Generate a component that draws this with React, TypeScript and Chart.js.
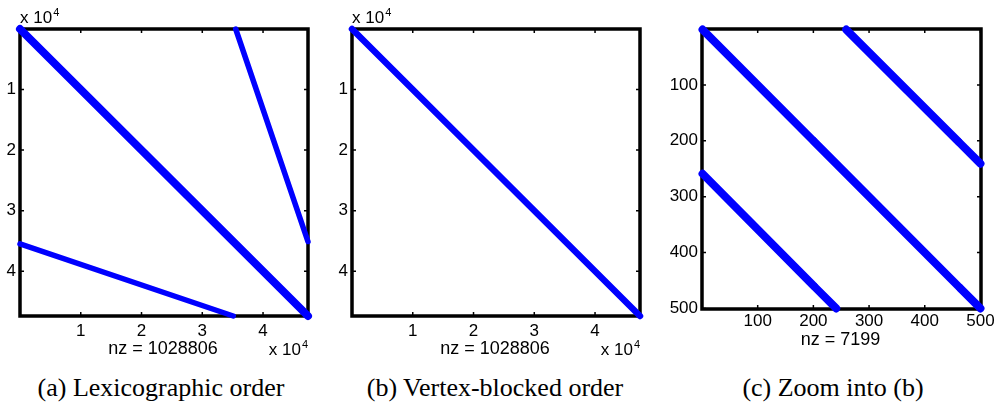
import React, { useEffect, useRef } from "react";
import { Chart, registerables } from "chart.js";

Chart.register(...registerables);

// ---------- data ----------
const lexExtent = 47400; // n + 1 for the full matrix
const zoomExtent = 501; // n + 1 for the 500x500 zoom
const lexTicks = [10000, 20000, 30000, 40000];
const zoomTicks = [100, 200, 300, 400, 500];

// (a) lexicographic order: segment endpoints (column, row) taken pairwise
const lexMainCols = [1, 47399];
const lexMainRows = [1, 47399];
const lexUpperCols = [35500, 47399];
const lexUpperRows = [1, 35100];
const lexLowerCols = [1, 35100];
const lexLowerRows = [35500, 47399];

// (b) vertex-blocked order
const vbMainCols = [1, 47399];
const vbMainRows = [1, 47399];

// (c) zoom into (b)
const zoomMainCols = [1, 199, 201, 462, 464, 500];
const zoomMainRows = [1, 199, 201, 462, 464, 500];
const zoomUpperCols = [259, 460, 462, 500];
const zoomUpperRows = [1, 201, 203, 241];
const zoomLowerCols = [1, 201, 203, 241];
const zoomLowerRows = [259, 460, 462, 500];

const nzLabels = ["nz = 1028806", "nz = 1028806", "nz = 7199"];
const captions = ["(a) Lexicographic order", "(b) Vertex-blocked order", "(c) Zoom into (b)"];

// ---------- layout ----------
const SANS = "'Liberation Sans', Arial, Helvetica, sans-serif";
const BLUE = "#0000ff";
const CANVAS_H = 370;

type Seg = { cols: number[]; rows: number[]; width: number };
type PanelCfg = {
  left: number;
  width: number;
  area: { left: number; right: number; top: number; bottom: number };
  extent: number;
  ticks: number[];
  tickDiv: number;
  exponent: boolean;
  nz: string;
  nzOffset: number;
  xPad: number;
  segs: Seg[];
};

const panels: PanelCfg[] = [
  {
    left: 0,
    width: 330,
    area: { left: 20, right: 308, top: 29, bottom: 316 },
    extent: lexExtent,
    ticks: lexTicks,
    tickDiv: 10000,
    exponent: true,
    nz: nzLabels[0],
    nzOffset: 38,
    xPad: 5,
    segs: [
      { cols: lexUpperCols, rows: lexUpperRows, width: 5.5 },
      { cols: lexLowerCols, rows: lexLowerRows, width: 5.5 },
      { cols: lexMainCols, rows: lexMainRows, width: 8 },
    ],
  },
  {
    left: 330,
    width: 330,
    area: { left: 22, right: 310, top: 29, bottom: 316 },
    extent: lexExtent,
    ticks: lexTicks,
    tickDiv: 10000,
    exponent: true,
    nz: nzLabels[1],
    nzOffset: 38,
    xPad: 5,
    segs: [{ cols: vbMainCols, rows: vbMainRows, width: 6.5 }],
  },
  {
    left: 660,
    width: 337,
    area: { left: 42, right: 321, top: 29, bottom: 309 },
    extent: zoomExtent,
    ticks: zoomTicks,
    tickDiv: 1,
    exponent: false,
    nz: nzLabels[2],
    nzOffset: 36,
    xPad: 2,
    segs: [
      { cols: zoomMainCols, rows: zoomMainRows, width: 8 },
      { cols: zoomUpperCols, rows: zoomUpperRows, width: 8 },
      { cols: zoomLowerCols, rows: zoomLowerRows, width: 8 },
    ],
  },
];

const captionCenters = [161, 495, 833];

function buildDatasets(segs: Seg[]) {
  const out: any[] = [];
  segs.forEach((s) => {
    for (let i = 0; i + 1 < s.cols.length; i += 2) {
      out.push({
        data: [
          { x: s.cols[i], y: s.rows[i] },
          { x: s.cols[i + 1], y: s.rows[i + 1] },
        ],
        showLine: true,
        borderColor: BLUE,
        backgroundColor: BLUE,
        borderWidth: s.width,
        borderCapStyle: "round",
        pointRadius: 0,
        pointHoverRadius: 0,
        clip: false,
      });
    }
  });
  return out;
}

function Panel({ cfg }: { cfg: PanelCfg }) {
  const ref = useRef<HTMLCanvasElement | null>(null);
  useEffect(() => {
    if (!ref.current) return;
    const a = cfg.area;
    const framePlugin = {
      id: "frame",
      beforeDatasetsDraw(chart: any) {
        const ctx = chart.ctx;
        const ca = chart.chartArea;
        const xs = chart.scales.x;
        const ys = chart.scales.y;
        ctx.save();
        ctx.strokeStyle = "#000";
        ctx.lineWidth = 1.5;
        const tl = 4;
        cfg.ticks.forEach((v) => {
          const px = xs.getPixelForValue(v);
          ctx.beginPath();
          ctx.moveTo(px, ca.top);
          ctx.lineTo(px, ca.top + tl);
          ctx.moveTo(px, ca.bottom);
          ctx.lineTo(px, ca.bottom - tl);
          ctx.stroke();
          const py = ys.getPixelForValue(v);
          ctx.beginPath();
          ctx.moveTo(ca.left, py);
          ctx.lineTo(ca.left + tl, py);
          ctx.moveTo(ca.right, py);
          ctx.lineTo(ca.right - tl, py);
          ctx.stroke();
        });
        ctx.lineWidth = 3.5;
        ctx.strokeRect(ca.left, ca.top, ca.right - ca.left, ca.bottom - ca.top);
        ctx.restore();
      },
      afterDraw(chart: any) {
        const ctx = chart.ctx;
        const ca = chart.chartArea;
        ctx.save();
        ctx.fillStyle = "#000";
        ctx.textBaseline = "alphabetic";
        // nz label
        ctx.font = `18px ${SANS}`;
        ctx.textAlign = "center";
        ctx.fillText(cfg.nz, (ca.left + ca.right) / 2 - 1, ca.bottom + cfg.nzOffset);
        if (cfg.exponent) {
          // top-left multiplier
          ctx.textAlign = "left";
          ctx.font = `17px ${SANS}`;
          const base = "x 10";
          ctx.fillText(base, ca.left, ca.top - 6);
          const w = ctx.measureText(base).width;
          ctx.font = `11px ${SANS}`;
          ctx.fillText("4", ca.left + w + 1, ca.top - 13);
          // bottom-right multiplier
          ctx.font = `11px ${SANS}`;
          const w4 = ctx.measureText("4").width;
          ctx.textAlign = "right";
          ctx.fillText("4", ca.right, ca.bottom + 32);
          ctx.font = `17px ${SANS}`;
          ctx.fillText(base, ca.right - w4 - 1, ca.bottom + 39);
        }
        ctx.restore();
      },
    };

    const tickFont = { family: SANS, size: 17 };
    const chart = new Chart(ref.current, {
      type: "scatter",
      data: { datasets: buildDatasets(cfg.segs) },
      options: {
        animation: false,
        responsive: false,
        devicePixelRatio: 1,
        events: [],
        layout: { padding: { left: 0, top: a.top, right: cfg.width - a.right, bottom: 0 } },
        plugins: { legend: { display: false }, tooltip: { enabled: false } },
        scales: {
          x: {
            type: "linear",
            position: "bottom",
            min: 0,
            max: cfg.extent,
            grid: { display: false, drawTicks: false },
            border: { display: false },
            ticks: {
              autoSkip: false,
              maxRotation: 0,
              padding: cfg.xPad,
              color: "#000",
              font: tickFont,
              callback: (v: any) => String(Number(v) / cfg.tickDiv),
            },
            afterBuildTicks: (s: any) => {
              s.ticks = cfg.ticks.map((v) => ({ value: v }));
            },
            afterFit: (s: any) => {
              s.height = CANVAS_H - a.bottom;
            },
          },
          y: {
            type: "linear",
            position: "left",
            reverse: true,
            min: 0,
            max: cfg.extent,
            grid: { display: false, drawTicks: false },
            border: { display: false },
            ticks: {
              autoSkip: false,
              padding: 4,
              color: "#000",
              font: tickFont,
              callback: (v: any) => String(Number(v) / cfg.tickDiv),
            },
            afterBuildTicks: (s: any) => {
              s.ticks = cfg.ticks.map((v) => ({ value: v }));
            },
            afterFit: (s: any) => {
              s.width = a.left;
            },
          },
        },
      } as any,
      plugins: [framePlugin],
    });
    return () => chart.destroy();
  }, [cfg]);

  return (
    <canvas
      ref={ref}
      width={cfg.width}
      height={CANVAS_H}
      style={{ position: "absolute", left: cfg.left, top: 0, width: cfg.width, height: CANVAS_H, display: "block" }}
    />
  );
}

export default function App() {
  return (
    <div style={{ position: "absolute", left: 0, top: 0, width: 997, height: 405, background: "#fff", overflow: "hidden" }}>
      {panels.map((p, i) => (
        <Panel key={i} cfg={p} />
      ))}
      {captions.map((c, i) => (
        <div
          key={"c" + i}
          style={{
            position: "absolute",
            left: captionCenters[i] - 200,
            width: 400,
            top: 373,
            height: 30,
            lineHeight: "30px",
            textAlign: "center",
            fontFamily: "'Liberation Serif', 'Times New Roman', serif",
            fontSize: 26,
            color: "#000",
            whiteSpace: "nowrap",
          }}
        >
          {c}
        </div>
      ))}
    </div>
  );
}
